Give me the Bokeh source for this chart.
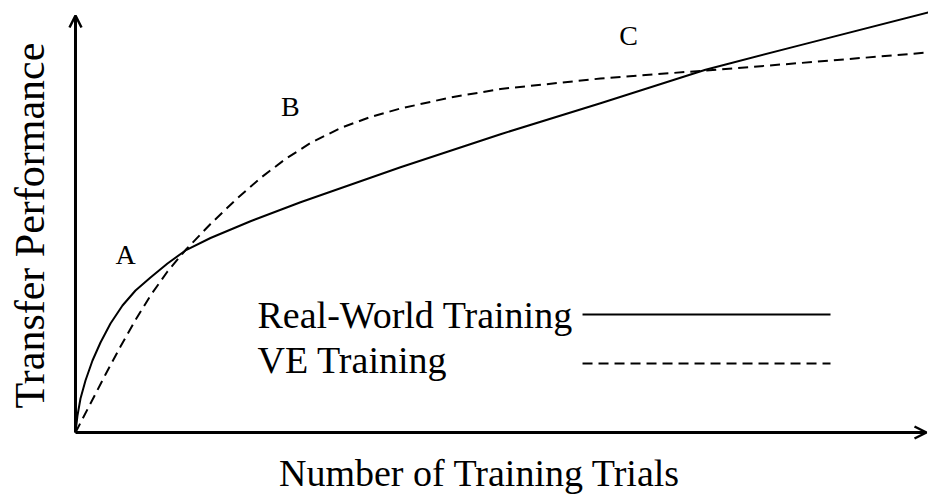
from bokeh.plotting import figure
from bokeh.models import Range1d, Arrow, OpenHead, Label, ColumnDataSource
from bokeh.embed import file_html
from bokeh.resources import INLINE
from bokeh.core.properties import value

# Data (abstract units: trials 0-100, performance 0-100)
real_x = [0, 0.235, 0.588, 1.175, 1.998, 2.938, 4.113, 5.523, 7.051, 8.813, 10.811,
          12.926, 15.864, 20.564, 26.440, 38.190, 49.941, 61.692, 74.031, 85.194, 100.2]
real_y = [0, 4.08, 8.15, 12.47, 17.27, 21.58, 26.14, 30.46, 34.05, 37.17, 40.53,
          43.65, 46.64, 50.67, 55.23, 63.62, 71.53, 78.97, 87.00, 92.90, 100.72]

ve_x = [0, 1.763, 3.525, 5.288, 7.051, 8.813, 10.811, 12.926, 15.864, 18.801, 21.739,
        24.677, 27.615, 31.140, 34.665, 38.190, 44.066, 49.941, 61.692, 74.031, 85.194, 100.2]
ve_y = [0, 6.95, 13.91, 20.62, 26.98, 32.85, 38.61, 43.76, 50.00, 55.76, 61.03,
        65.59, 69.42, 73.02, 75.66, 77.70, 80.34, 82.37, 84.89, 86.81, 88.61, 91.13]

point_labels = ["A", "B", "C"]
point_x = [5.875, 25.26, 64.98]
point_y = [42.69, 78.18, 95.20]

legend_names = ["Real-World Training", "VE Training"]
legend_text_x = [21.39, 21.39]
legend_text_y = [28.06, 17.27]
legend_line_x = [59.58, 88.72]
legend_line_y = [28.30, 16.55]

x_title = "Number of Training Trials"
y_title = "Transfer Performance"

FONT = "Liberation Serif"

p = figure(width=928, height=504, output_backend="svg", toolbar_location=None,
           x_range=Range1d(-8.813, 100.235), y_range=Range1d(-17.266, 103.597),
           min_border=0, min_border_left=0, min_border_right=0,
           min_border_top=0, min_border_bottom=0)
p.axis.visible = False
p.grid.visible = False
p.outline_line_color = None
p.background_fill_color = "white"

# curves
p.line(real_x, real_y, line_color="black", line_width=2, line_join="round")
p.line(ve_x, ve_y, line_color="black", line_width=2, line_dash="10 6", line_join="round")

# axes with arrows
p.add_layout(Arrow(end=OpenHead(size=12, line_width=2.5, line_color="black"),
                   x_start=0, y_start=0, x_end=100.0, y_end=0,
                   line_width=3, line_color="black"))
p.add_layout(Arrow(end=OpenHead(size=12, line_width=2.5, line_color="black"),
                   x_start=0, y_start=0, x_end=0, y_end=100,
                   line_width=3, line_color="black"))

# axis titles
p.add_layout(Label(x=-5.29, y=49.64, text=y_title, angle=1.5708,
                   text_align="center", text_baseline="middle",
                   text_font=FONT, text_font_size="42px", text_color="black"))
p.add_layout(Label(x=47.5, y=-9.6, text=x_title,
                   text_align="center", text_baseline="alphabetic",
                   text_font=FONT, text_font_size="38px", text_color="black"))

# point labels
src = ColumnDataSource(dict(x=point_x, y=point_y, t=point_labels))
p.text(x="x", y="y", text="t", source=src, text_align="center",
       text_baseline="middle", text_font=value(FONT), text_font_size="28px",
       text_color="black")

# legend (text then sample line)
lsrc = ColumnDataSource(dict(x=legend_text_x, y=legend_text_y, t=legend_names))
p.text(x="x", y="y", text="t", source=lsrc, text_align="left",
       text_baseline="alphabetic", text_font=value(FONT), text_font_size="38px",
       text_color="black")
p.line(legend_line_x, [legend_line_y[0]] * 2, line_color="black", line_width=2)
p.line(legend_line_x, [legend_line_y[1]] * 2, line_color="black", line_width=2,
       line_dash="10 6")

open("out.html", "w").write(file_html(p, INLINE))
